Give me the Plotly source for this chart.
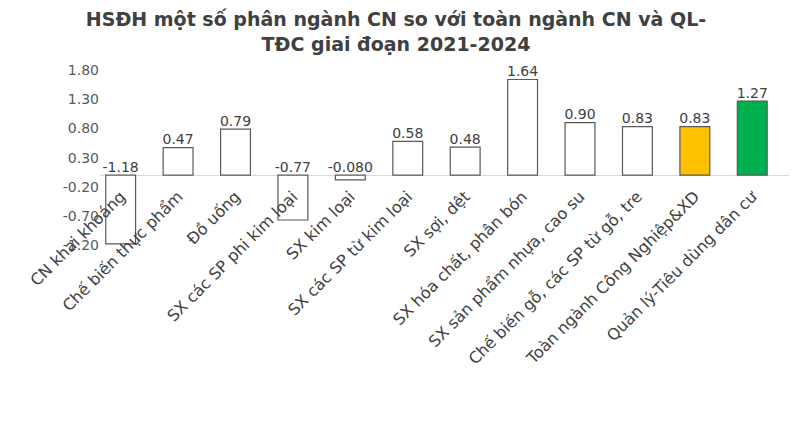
import plotly.graph_objects as go

# danh mục phân ngành và hệ số HSĐH
categories = [
    "CN khai khoáng",
    "Chế biến thực phẩm",
    "Đồ uống",
    "SX các SP phi kim loại",
    "SX kim loại",
    "SX các SP từ kim loại",
    "SX sợi, dệt",
    "SX hóa chất, phân bón",
    "SX sản phẩm nhựa, cao su",
    "Chế biến gỗ, các SP từ gỗ, tre",
    "Toàn ngành Công Nghiệp&XD",
    "Quản lý-Tiêu dùng dân cư",
]
values = [-1.18, 0.47, 0.79, -0.77, -0.080, 0.58, 0.48, 1.64, 0.90, 0.83, 0.83, 1.27]
value_labels = ["-1.18", "0.47", "0.79", "-0.77", "-0.080", "0.58", "0.48",
                "1.64", "0.90", "0.83", "0.83", "1.27"]

# vạch trục tung (dấu gạch nối như Excel)
y_tick_values = [-1.2, -0.7, -0.2, 0.3, 0.8, 1.3, 1.8]
y_tick_labels = ["-1.20", "-0.70", "-0.20", "0.30", "0.80", "1.30", "1.80"]

# màu cột: trắng cho phân ngành, vàng cho toàn ngành, xanh cho QL-TDC
bar_colors = ["white"] * 10 + ["#FFC000", "#00B050"]

y_min, y_max = -1.25, 1.94
FONT = "DejaVu Sans"

fig = go.Figure()
fig.add_trace(go.Bar(
    x=categories,
    y=values,
    width=0.52,
    marker=dict(color=bar_colors, line=dict(color="#595959", width=1.2)),
    hoverinfo="skip",
))
# nhãn số liệu đặt phía trên trục 0 (kể cả với giá trị âm)
fig.add_trace(go.Scatter(
    x=categories,
    y=[max(v, 0) for v in values],
    mode="text",
    text=value_labels,
    textposition="top center",
    textfont=dict(family=FONT, size=14, color="#404040"),
    hoverinfo="skip",
))

fig.update_layout(
    width=800,
    height=444,
    showlegend=False,
    plot_bgcolor="white",
    paper_bgcolor="white",
    margin=dict(l=92, r=19, t=54, b=204),
    title=dict(
        text="HSĐH một số phân ngành CN so với toàn ngành CN và QL-<br>TĐC giai đoạn 2021-2024",
        x=0.485, xanchor="center", xref="container",
        y=1 - 18 / 444, yanchor="middle", yref="container",
        font=dict(family=FONT, size=19, color="#404040", weight="bold"),
    ),
)
fig.update_yaxes(
    range=[y_min, y_max],
    tickvals=y_tick_values, ticktext=y_tick_labels,
    showgrid=False,
    zeroline=True, zerolinecolor="#d9d9d9", zerolinewidth=1,
    tickfont=dict(family=FONT, size=14, color="#595959"),
    ticks="", showline=False, automargin=False,
)
# trục hoành cắt tại 0 như biểu đồ Excel
fig.update_xaxes(
    range=[-0.36, len(categories) - 0.36],
    anchor="free",
    position=(0 - y_min) / (y_max - y_min),
    tickangle=-45,
    ticklabelstandoff=8,
    showgrid=False, showline=False, ticks="", automargin=False,
    tickfont=dict(family=FONT, size=16, color="#404040"),
)

fig.write_html("out.html")
